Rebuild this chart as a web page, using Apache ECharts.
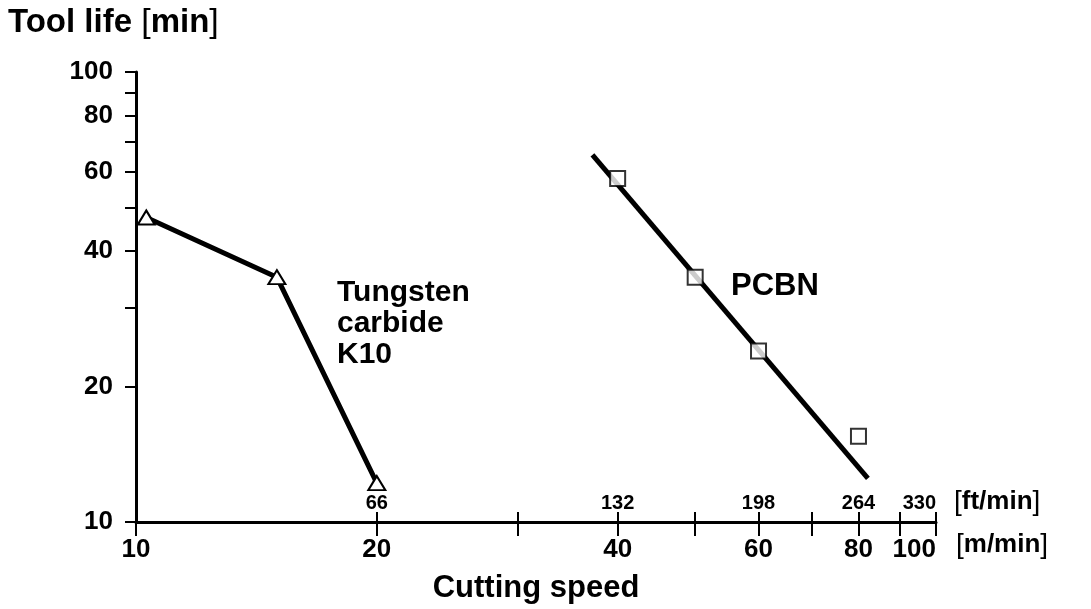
<!DOCTYPE html>
<html>
<head>
<meta charset="utf-8">
<script src="https://cdn.jsdelivr.net/npm/echarts@6/dist/echarts.min.js"></script>
<style>
  html, body { margin: 0; padding: 0; background: #fff; }
  #chart { width: 1091px; height: 609px; }
</style>
</head>
<body>
<div id="chart"></div>
<script>
// Tool life vs. cutting speed, log-log
const tungstenCarbideK10 = [[10.3, 47.5], [15, 35], [20, 12.2]]; // [m/min, min]
const pcbnMeasured = [[40, 58], [50, 35], [60, 24], [80, 15.5]]; // [m/min, min]
const pcbnTrend = [[37.2, 65.4], [82.2, 12.5]];                   // fitted straight line

const speedTicks = [10, 20, 30, 40, 50, 60, 70, 80, 90, 100];
const speedLabels = [10, 20, 40, 60, 80, 100];
const ftTicks = [20, 30, 40, 50, 60, 70, 80, 90, 100];
const ftLabelSpeeds = [20, 40, 60, 80, 100];
const ftLabels = ['66', '132', '198', '264', '330'];
const lifeTicks = [10, 20, 30, 40, 50, 60, 70, 80, 90, 100];
const lifeLabels = [10, 20, 40, 60, 80, 100];

const FONT = "'Liberation Sans', Arial, Helvetica, sans-serif";
const INK = '#000';

const chart = echarts.init(document.getElementById('chart'), null, { renderer: 'canvas' });

function bracketed(inner, size) {
  return {
    text: '{l|[}{b|' + inner + '}{l|]}',
    rich: {
      b: { fontFamily: FONT, fontWeight: 'bold', fontSize: size, fill: INK },
      l: { fontFamily: FONT, fontWeight: 'normal', fontSize: size + 2, fill: INK }
    }
  };
}

chart.setOption({
  backgroundColor: '#fff',
  animation: false,
  grid: { left: 136, right: 155, top: 72, bottom: 87, containLabel: false },
  xAxis: [
    {
      type: 'log', logBase: 10, min: 10, max: 100, position: 'bottom',
      name: 'Cutting speed', nameLocation: 'middle', nameGap: 51,
      nameTextStyle: { fontFamily: FONT, fontWeight: 'bold', fontSize: 31, color: INK },
      axisLine: { show: true, lineStyle: { color: INK, width: 3 } },
      axisTick: { show: true, inside: false, length: 14, customValues: speedTicks,
                  lineStyle: { color: INK, width: 2 } },
      axisLabel: { show: true, inside: false, margin: 15, customValues: speedLabels,
                   alignMaxLabel: 'right',
                   fontFamily: FONT, fontWeight: 'bold', fontSize: 26, color: INK },
      splitLine: { show: false }, minorTick: { show: false }, minorSplitLine: { show: false }
    },
    {
      type: 'log', logBase: 10, min: 10, max: 100, position: 'bottom', offset: 0,
      axisLine: { show: false },
      axisTick: { show: true, inside: true, length: 10, customValues: ftTicks,
                  lineStyle: { color: INK, width: 2 } },
      axisLabel: { show: true, inside: true, margin: 9, customValues: ftLabelSpeeds,
                   alignMaxLabel: 'right',
                   formatter: (v) => ftLabels[ftLabelSpeeds.indexOf(Math.round(v))] || '',
                   fontFamily: FONT, fontWeight: 'bold', fontSize: 20, color: INK },
      splitLine: { show: false }, minorTick: { show: false }, minorSplitLine: { show: false }
    }
  ],
  yAxis: {
    type: 'log', logBase: 10, min: 10, max: 100,
    axisLine: { show: true, lineStyle: { color: INK, width: 3 } },
    axisTick: { show: true, inside: false, length: 11, customValues: lifeTicks,
                lineStyle: { color: INK, width: 2 } },
    axisLabel: { show: true, margin: 23, customValues: lifeLabels,
                 fontFamily: FONT, fontWeight: 'bold', fontSize: 26, color: INK },
    splitLine: { show: false }, minorTick: { show: false }, minorSplitLine: { show: false }
  },
  series: [
    {
      name: 'Tungsten carbide K10', type: 'line', xAxisIndex: 0, data: tungstenCarbideK10,
      symbol: 'triangle', symbolSize: [17, 14], showAllSymbol: true,
      lineStyle: { color: INK, width: 5 },
      itemStyle: { color: '#fff', borderColor: INK, borderWidth: 2 },
      z: 3
    },
    {
      name: 'PCBN trend', type: 'line', xAxisIndex: 0, data: pcbnTrend,
      symbol: 'none', lineStyle: { color: INK, width: 5 }, z: 2
    },
    {
      name: 'PCBN', type: 'scatter', xAxisIndex: 0, data: pcbnMeasured,
      symbol: 'rect', symbolSize: 15,
      itemStyle: { color: '#fff', borderColor: INK, borderWidth: 2 },
      z: 4
    }
  ],
  graphic: [
    {
      type: 'text', left: 8, top: 6,
      style: {
        text: '{b|Tool life }{l|[}{b|min}{l|]}',
        rich: {
          b: { fontFamily: FONT, fontWeight: 'bold', fontSize: 33, fill: INK },
          l: { fontFamily: FONT, fontWeight: 'normal', fontSize: 34, fill: INK }
        }
      }
    },
    {
      type: 'text', left: 337, top: 277,
      style: { text: 'Tungsten\ncarbide\nK10', fontFamily: FONT, fontWeight: 'bold',
               fontSize: 30, lineHeight: 31, fill: INK }
    },
    {
      type: 'text', left: 731, top: 271,
      style: { text: 'PCBN', fontFamily: FONT, fontWeight: 'bold', fontSize: 31, fill: INK }
    },
    { type: 'text', left: 954, top: 488, style: bracketed('ft/min', 26) },
    { type: 'text', left: 956, top: 531, style: bracketed('m/min', 26) }
  ]
});
</script>
</body>
</html>
